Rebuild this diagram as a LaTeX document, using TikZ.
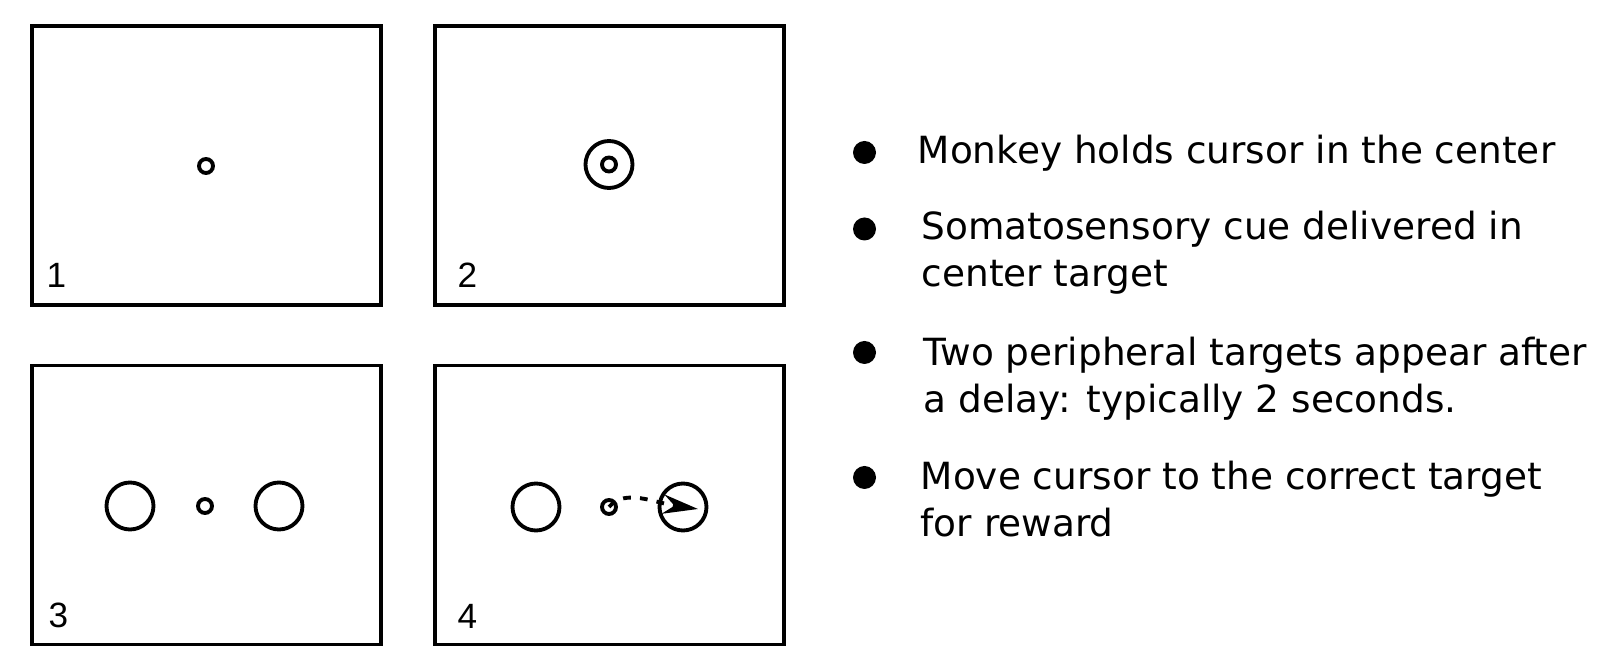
\documentclass[tikz,border=0pt]{standalone}
\usepackage{fontspec}
\setmainfont{DejaVu Sans}
\newfontfamily\numfont{Liberation Sans}
\usetikzlibrary{arrows.meta,positioning,calc}

\tikzset{
  panel/.style={draw, line width=1.1pt, minimum width=3.49cm, minimum height=2.79cm, inner sep=0pt},
  spot/.style={draw, circle, line width=1.1pt, inner sep=0pt, minimum size=0.14cm},
  target/.style={draw, circle, line width=1.1pt, inner sep=0pt, minimum size=0.47cm},
  num/.style={anchor=base west, inner sep=0pt, font=\numfont\fontsize{10}{12}\selectfont},
  item/.style={anchor=base west, inner sep=0pt, align=left, font=\fontsize{10.65}{13.3}\selectfont},
  move/.style={line width=1.1pt, dash pattern=on 2.2pt off 2.6pt, -{Stealth[length=10pt,width=5.5pt]}},
}

\begin{document}
\begin{tikzpicture}[x=1cm, y=-1cm]
    \useasboundingbox (0,0) rectangle (15.98,6.47);

    % Panel 1: hold in the center
    \node[panel] (p1) at (2.065,1.655) {};
    \node[spot] (s1) at (2.06,1.66) {};
    \node[num] (n1) at (0.46,2.88) {1};

    % Panel 2: cue in center target
    \node[panel] (p2) at (6.095,1.655) {};
    \node[target] (c2) at (6.09,1.645) {};
    \node[spot] (s2) at (6.09,1.645) {};
    \node[num] (n2) at (4.57,2.88) {2};

    % Panel 3: two peripheral targets
    \node[panel] (p3) at (2.065,5.05) {};
    \node[target] (l3) at (1.30,5.06) {};
    \node[spot] (s3) at (2.05,5.06) {};
    \node[target] (r3) at (2.79,5.06) {};
    \node[num] (n3) at (0.48,6.28) {3};

    % Panel 4: move to the correct target
    \node[panel] (p4) at (6.095,5.05) {};
    \node[target] (l4) at (5.36,5.07) {};
    \node[spot] (s4) at (6.09,5.07) {};
    \node[target] (r4) at (6.83,5.07) {};
    \coordinate (tip) at (6.98,5.09);
    \draw[move] (s4.center) .. controls (6.25,4.88) and (6.55,5.03) .. (tip);
    \node[num] (n4) at (4.57,6.29) {4};

    % Bullet list
    \fill (8.645,1.525) circle (0.115);
    \node[item] (t1) at (9.17,1.633) {Monkey holds cursor in the center};
    \fill (8.645,2.29) circle (0.115);
    \node[item] (t2) at (9.21,2.867) {Somatosensory cue delivered in\\center target};
    \fill (8.645,3.525) circle (0.115);
    \node[item] (t3) at (9.23,4.127) {Two peripheral targets appear after\\a delay: typically 2 seconds.};
    \fill (8.645,4.775) circle (0.115);
    \node[item] (t4) at (9.20,5.367) {Move cursor to the correct target\\for reward};
\end{tikzpicture}
\end{document}
